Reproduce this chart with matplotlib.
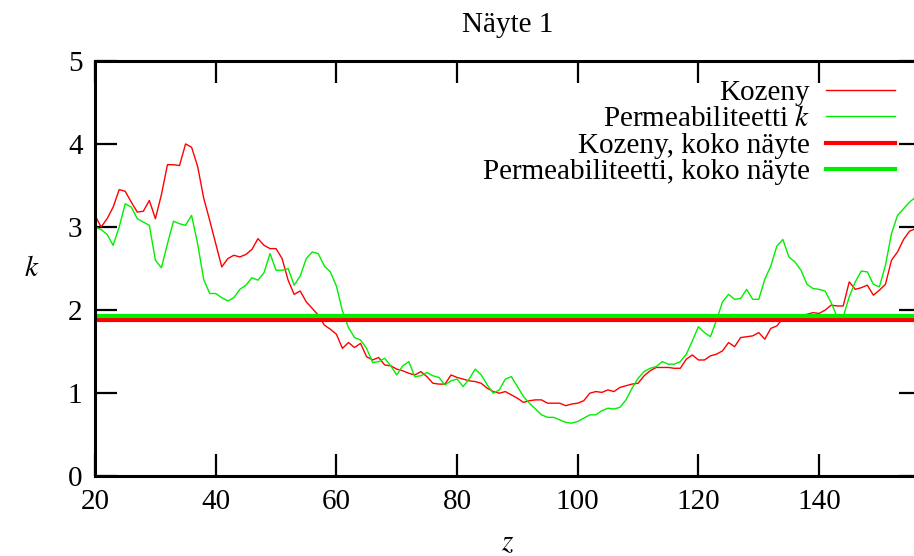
"""
Näyte 1: Kozeny vs. permeability k along z, plus whole-sample levels.
"""
import matplotlib

matplotlib.use("Agg")
import matplotlib.pyplot as plt
import numpy as np

plt.rcParams["font.family"] = ["Liberation Serif", "DejaVu Serif"]
plt.rcParams["mathtext.fontset"] = "stix"

Z_START = 20

kozeny = [
    3.14, 3.00, 3.10, 3.24, 3.45, 3.43, 3.30, 3.18, 3.19, 3.32,  # 20-29
    3.10, 3.39, 3.75, 3.75, 3.74, 4.00, 3.96, 3.73, 3.35, 3.08,  # 30-39
    2.80, 2.52, 2.62, 2.66, 2.64, 2.67, 2.73, 2.86, 2.78, 2.74,  # 40-49
    2.74, 2.62, 2.36, 2.19, 2.23, 2.10, 2.02, 1.94, 1.82, 1.77,  # 50-59
    1.71, 1.54, 1.61, 1.55, 1.60, 1.44, 1.40, 1.43, 1.34, 1.33,  # 60-69
    1.29, 1.27, 1.24, 1.22, 1.26, 1.20, 1.12, 1.11, 1.11, 1.22,  # 70-79
    1.19, 1.17, 1.15, 1.14, 1.12, 1.06, 1.02, 1.00, 1.02, 0.98,  # 80-89
    0.94, 0.89, 0.91, 0.92, 0.92, 0.88, 0.88, 0.88, 0.85, 0.87,  # 90-99
    0.88, 0.91, 1.00, 1.02, 1.01, 1.04, 1.02, 1.07, 1.09, 1.11,  # 100-109
    1.12, 1.21, 1.27, 1.31, 1.31, 1.31, 1.30, 1.30, 1.41, 1.46,  # 110-119
    1.40, 1.40, 1.45, 1.47, 1.51, 1.61, 1.56, 1.67, 1.68, 1.69,  # 120-129
    1.73, 1.65, 1.78, 1.81, 1.90, 1.91, 1.92, 1.93, 1.95, 1.97,  # 130-139
    1.96, 2.00, 2.06, 2.05, 2.05, 2.34, 2.25, 2.27, 2.30, 2.18,  # 140-149
    2.24, 2.31, 2.60, 2.70, 2.85, 2.95, 2.98,                    # 150-156
]

permeability = [
    3.00, 2.97, 2.91, 2.78, 3.00, 3.28, 3.24, 3.10, 3.06, 3.02,  # 20-29
    2.60, 2.51, 2.80, 3.07, 3.04, 3.02, 3.14, 2.80, 2.37, 2.20,  # 30-39
    2.20, 2.15, 2.11, 2.15, 2.25, 2.30, 2.39, 2.36, 2.45, 2.68,  # 40-49
    2.48, 2.48, 2.50, 2.30, 2.41, 2.62, 2.70, 2.68, 2.53, 2.46,  # 50-59
    2.29, 1.99, 1.79, 1.67, 1.64, 1.54, 1.37, 1.38, 1.42, 1.33,  # 60-69
    1.22, 1.33, 1.38, 1.20, 1.21, 1.25, 1.21, 1.19, 1.10, 1.15,  # 70-79
    1.17, 1.08, 1.17, 1.29, 1.22, 1.10, 1.00, 1.04, 1.17, 1.20,  # 80-89
    1.08, 0.96, 0.88, 0.81, 0.74, 0.71, 0.71, 0.68, 0.65, 0.64,  # 90-99
    0.66, 0.70, 0.74, 0.74, 0.79, 0.82, 0.81, 0.83, 0.92, 1.06,  # 100-109
    1.18, 1.26, 1.30, 1.32, 1.38, 1.35, 1.35, 1.38, 1.47, 1.63,  # 110-119
    1.80, 1.73, 1.68, 1.88, 2.10, 2.19, 2.13, 2.14, 2.25, 2.13,  # 120-129
    2.13, 2.37, 2.53, 2.77, 2.85, 2.64, 2.58, 2.48, 2.31, 2.26,  # 130-139
    2.25, 2.23, 2.09, 1.92, 1.92, 2.16, 2.34, 2.47, 2.46, 2.31,  # 140-149
    2.28, 2.54, 2.92, 3.14, 3.22, 3.30, 3.36,                    # 150-156
]

kozeny_whole = 1.885
permeability_whole = 1.93

labels = ["Kozeny", "Permeabiliteetti $k$", "Kozeny, koko näyte", "Permeabiliteetti, koko näyte"]
x_ticks = [20, 40, 60, 80, 100, 120, 140]
y_ticks = [0, 1, 2, 3, 4, 5]

RED = "#ff0000"
GREEN = "#00ee00"
FS = 21

z = np.arange(Z_START, Z_START + len(kozeny))

fig = plt.figure(figsize=(9.14, 5.56), dpi=100)
# right spine sits just past the image edge, like the cropped original
ax = fig.add_axes([0.104, 0.1433, 0.9037, 0.7473])

ax.plot(z, kozeny, color=RED, lw=1.0, label=labels[0])
ax.plot(z, permeability, color=GREEN, lw=1.0, label=labels[1])
ax.axhline(kozeny_whole, color=RED, lw=3.0, label=labels[2])
ax.axhline(permeability_whole, color=GREEN, lw=3.0, label=labels[3])

ax.set_xlim(20, 156.9)
ax.set_ylim(0, 5)
ax.set_xticks(x_ticks)
ax.set_yticks(y_ticks)
ax.tick_params(direction="in", length=16, width=1.6, labelsize=FS,
               top=True, right=True, pad=9)
for spine in ax.spines.values():
    spine.set_linewidth(2.2)

ax.set_title("Näyte 1", fontsize=FS, pad=21)
ax.set_xlabel("$z$", fontsize=FS, labelpad=11)
ax.set_ylabel("$k$", fontsize=FS, rotation=0, labelpad=26, va="center")

ax.legend(loc="upper right", bbox_to_anchor=(0.9685, 0.955), frameon=False,
          fontsize=FS, markerfirst=False, handlelength=2.36, handletextpad=0.55,
          borderpad=0, borderaxespad=0, labelspacing=0.0)

fig.savefig("out.png", dpi=100)
